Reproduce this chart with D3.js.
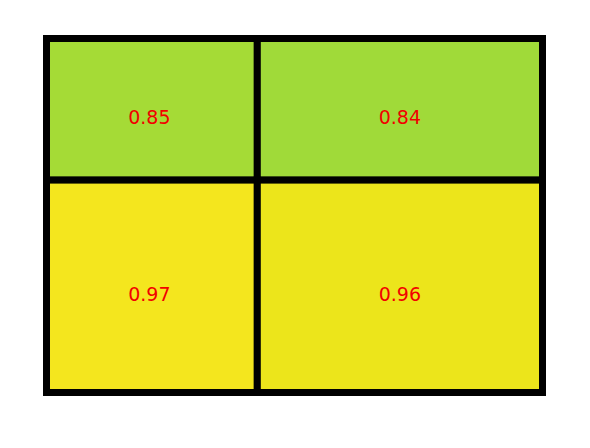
<!DOCTYPE html>
<html>
<head>
<meta charset="utf-8">
<script src="https://cdn.jsdelivr.net/npm/d3@7"></script>
<style>
  html, body { margin: 0; padding: 0; background: #ffffff; }
  svg { display: block; }
</style>
</head>
<body>
<svg id="chart" width="590" height="448"></svg>
<script>
// Data
const colNames = ["A", "B"];
const rowNames = ["top", "bottom"];
const colShares = [0.425, 0.575];
const rowShares = [0.40, 0.60];
const cellValues = [
  [0.85, 0.84],
  [0.97, 0.96]
];

const svg = d3.select("#chart");
const x0 = 46.5, x1 = 542.5, y0 = 38.5, y1 = 392.5;

const xScale = d3.scaleLinear().domain([0, 1]).range([x0, x1]);
const yScale = d3.scaleLinear().domain([0, 1]).range([y0, y1]);
const color = d3.scaleSequential(d3.interpolateViridis).domain([-0.05, 0.99]);

const colStart = d3.cumsum([0, ...colShares]);
const rowStart = d3.cumsum([0, ...rowShares]);

const cells = [];
rowNames.forEach((r, i) => {
  colNames.forEach((c, j) => {
    cells.push({
      row: i, col: j, value: cellValues[i][j],
      xa: colStart[j], xb: colStart[j + 1],
      ya: rowStart[i], yb: rowStart[i + 1]
    });
  });
});

svg.selectAll("rect.cell")
  .data(cells)
  .join("rect")
  .attr("class", "cell")
  .attr("x", d => xScale(d.xa))
  .attr("y", d => yScale(d.ya))
  .attr("width", d => xScale(d.xb) - xScale(d.xa))
  .attr("height", d => yScale(d.yb) - yScale(d.ya))
  .attr("fill", d => color(d.value))
  .attr("stroke", "#000")
  .attr("stroke-width", 7);

svg.selectAll("text.lbl")
  .data(cells)
  .join("text")
  .attr("class", "lbl")
  .attr("x", d => (xScale(d.xa) + xScale(d.xb)) / 2 - (d.col === 0 ? 2.5 : 0))
  .attr("y", d => (yScale(d.ya) + yScale(d.yb)) / 2 + 7.5)
  .attr("text-anchor", "middle")
  .attr("dominant-baseline", "central")
  .attr("font-family", "DejaVu Sans, sans-serif")
  .attr("font-size", 19)
  .attr("fill", "#f20000")
  .text(d => d.value.toFixed(2));
</script>
</body>
</html>
